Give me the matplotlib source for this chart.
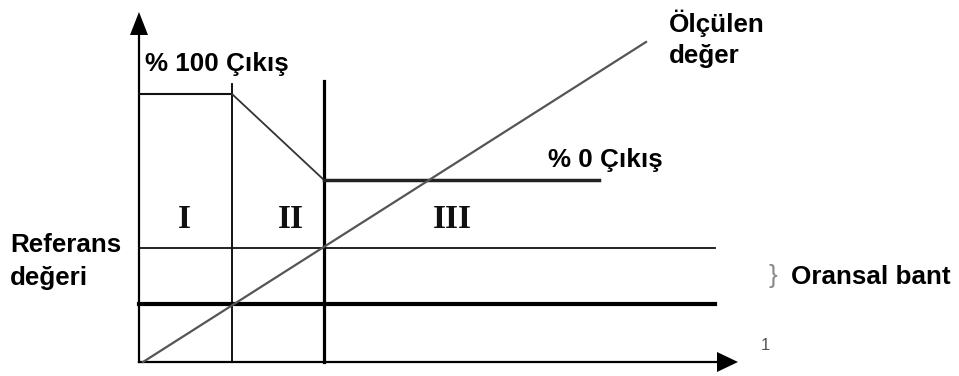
import matplotlib

matplotlib.use("Agg")
import matplotlib.pyplot as plt

W, H = 959, 376

# diagram geometry, in picture pixels (y grows downward)
origin = (139, 362)
y_axis_top = 12
x_axis_end = 738

out100_y = 94        # % 100 output level
out0_y = 180         # % 0 output level
ref_y = 248          # reference value
band_y = 304         # lower edge of proportional band
zone_x = [232, 324]  # boundaries I|II and II|III
zone_top = [84, 81]
out0_end = 599
hline_end = 715

meas_x = [143, 646]  # measured value ramp
meas_y = [362, 42]

zone_labels = ["I", "II", "III"]
zone_label_x = [184, 291, 452]
zone_label_y = 228

BOLD = dict(family="Liberation Sans", weight="bold", fontsize=18.7, color="black")

fig = plt.figure(figsize=(W / 100, H / 100), dpi=100)
ax = fig.add_axes([0, 0, 1, 1])
ax.set_xlim(0, W)
ax.set_ylim(H, 0)
ax.axis("off")

ox, oy = origin
k = "black"

# axes with arrow heads
ax.plot([ox, ox], [oy, y_axis_top + 20], color=k, lw=1.6)
ax.plot([ox, x_axis_end - 18], [oy, oy], color=k, lw=1.6)
ax.fill([ox - 9, ox, ox + 9], [35, y_axis_top, 35], color=k, lw=0)
ax.fill([717, x_axis_end, 717], [oy - 10, oy, oy + 10], color=k, lw=0)

# zone boundaries
ax.plot([zone_x[0], zone_x[0]], [zone_top[0], oy], color=k, lw=1.3)
ax.plot([zone_x[1], zone_x[1]], [zone_top[1], oy], color=k, lw=2.3)

# controller output curve
ax.plot([ox, zone_x[0]], [out100_y, out100_y], color="#111111", lw=1.5)
ax.plot([zone_x[0], zone_x[1]], [out100_y, out0_y], color="#333333", lw=1.3)
ax.plot([zone_x[1], out0_end], [out0_y, out0_y], color="#222222", lw=2.5)

# reference and band lines
ax.plot([ox, hline_end], [ref_y, ref_y], color="#111111", lw=1.3)
ax.plot([ox, hline_end], [band_y, band_y], color=k, lw=3.0)

# measured value
ax.plot(meas_x, meas_y, color="#555555", lw=1.6)

# labels
ax.text(145, 71, "% 100 Çıkış", va="baseline", ha="left", **BOLD)
ax.text(548, 167, "% 0 Çıkış", va="baseline", ha="left", **BOLD)
ax.text(669, 32, "Ölçülen", va="baseline", ha="left", **BOLD)
ax.text(669, 63, "değer", va="baseline", ha="left", **BOLD)
ax.text(10, 252, "Referans", va="baseline", ha="left", **BOLD)
ax.text(10, 285, "değeri", va="baseline", ha="left", **BOLD)
ax.text(791, 284, "Oransal bant", va="baseline", ha="left", **BOLD)
ax.text(773, 276, "}", va="center", ha="center", fontsize=19,
        family="Liberation Sans", color="#888888")
ax.text(765, 350, "1", va="baseline", ha="center", fontsize=12,
        family="Liberation Sans", color="#555555")

for lab, lx in zip(zone_labels, zone_label_x):
    ax.text(lx, zone_label_y, lab, va="baseline", ha="center",
            family="Liberation Serif", weight="bold", fontsize=24, color="#111111")

fig.savefig("out.png", dpi=100)
